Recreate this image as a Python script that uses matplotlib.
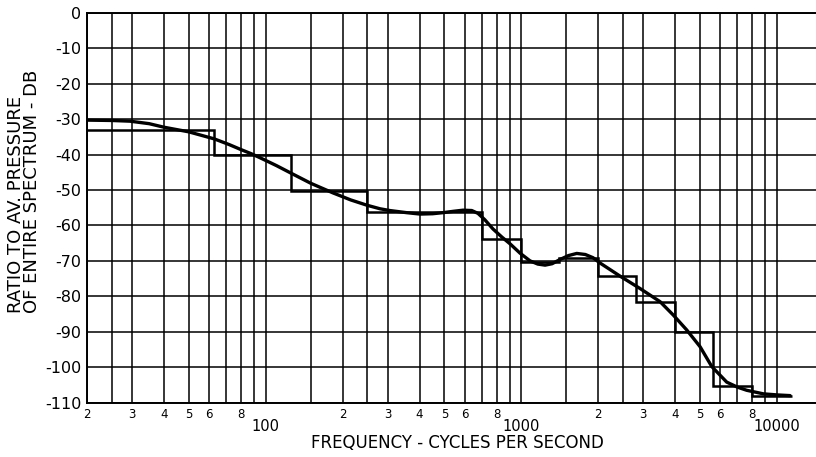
import numpy as np
import matplotlib.pyplot as plt

# band levels (step line): band edges in c/s and level in db
band_edges = [20, 63, 126, 250, 700, 1000, 1400, 2000, 2800, 4000, 5600, 8000, 11500]
band_levels = [-33, -40, -50.3, -56.1, -63.8, -70.2, -69.3, -74.3, -81.5, -90, -105.3, -108]

# smooth spectrum curve
curve_freq = [20, 25, 29.5, 35, 40, 50, 63, 72, 80, 88, 95, 110, 126, 150, 183, 215, 249,
              280, 306, 356, 402, 450, 494, 545, 592, 640, 677, 720, 775, 840, 904, 988,
              1082, 1160, 1239, 1320, 1418, 1530, 1648, 1780, 1908, 2032, 2230, 2434,
              2915, 3490, 3934, 4440, 5004, 5560, 6364, 7000, 7620, 8850, 10000, 11260]
curve_db = [-30.3, -30.4, -30.6, -31.3, -32.3, -33.6, -35.6, -37.2, -38.6, -39.8, -40.9,
            -43.1, -45.3, -48.1, -50.8, -52.8, -54.3, -55.3, -55.8, -56.4, -56.8, -56.7,
            -56.4, -56.0, -55.7, -55.8, -56.6, -58.4, -61.0, -63.3, -65.2, -67.8,
            -70.0, -70.9, -71.2, -70.8, -69.6, -68.5, -67.9, -68.2, -69.1, -70.6, -72.5,
            -74.3, -77.8, -81.5, -85.3, -89.5, -94.2, -99.8, -104.2, -105.6, -106.5,
            -107.5, -107.8, -108.0]

# grid lines per decade and the small digits printed under them
grid_mult = [1.5, 2, 2.5, 3, 4, 5, 6, 7, 8, 9]
label_mult = [2, 3, 4, 5, 6, 8]
decades = [10, 100, 1000]
big_labels = [100, 1000, 10000]
y_ticks = np.arange(0, -111, -10)

plt.rcParams['font.family'] = ['DejaVu Sans']

fig = plt.figure(figsize=(8.16, 4.57), dpi=100)
ax = fig.add_axes([87 / 816, 1 - 402.7 / 457, 1 - 87 / 816, (402.7 - 12.7) / 457])

ax.stairs(band_levels, band_edges, baseline=None, color='black', lw=1.8)
ax.plot(curve_freq, curve_db, color='black', lw=2.4, solid_joinstyle='round', solid_capstyle='round')

ax.set_xscale('log')
ax.set_xlim(20, 14220)
ax.set_ylim(-110, 0)

# ticks / grid
minor_pos = []
minor_lab = []
for d in decades:
    for m in grid_mult:
        f = d * m
        if 20 <= f <= 14220:
            minor_pos.append(f)
            minor_lab.append(str(m) if m in label_mult else '')
ax.set_xticks(big_labels)
ax.set_xticklabels([str(b) for b in big_labels], fontsize=10.5)
ax.set_xticks(minor_pos, minor=True)
ax.set_xticklabels(minor_lab, minor=True, fontsize=8.5)
ax.tick_params(axis='x', which='major', length=0, pad=12)
ax.tick_params(axis='x', which='minor', length=0, pad=4)

ax.set_yticks(y_ticks)
ax.set_yticklabels([str(v) for v in y_ticks], fontsize=11.5)
ax.tick_params(axis='y', length=0, pad=4)

ax.grid(True, which='both', color='black', lw=1.1)
ax.set_axisbelow(True)
for s in ['left', 'bottom', 'top']:
    ax.spines[s].set_linewidth(1.4)
ax.spines['right'].set_visible(False)

fig.text(457 / 816, 1 - 443 / 457, 'FREQUENCY - CYCLES PER SECOND', ha='center', va='center', fontsize=12)
fig.text(24 / 816, 1 - 191 / 457, 'RATIO TO AV. PRESSURE\nOF ENTIRE SPECTRUM - DB', rotation=90,
         ha='center', va='center', multialignment='left', fontsize=13, linespacing=0.85)

fig.savefig('out.png', dpi=100)
